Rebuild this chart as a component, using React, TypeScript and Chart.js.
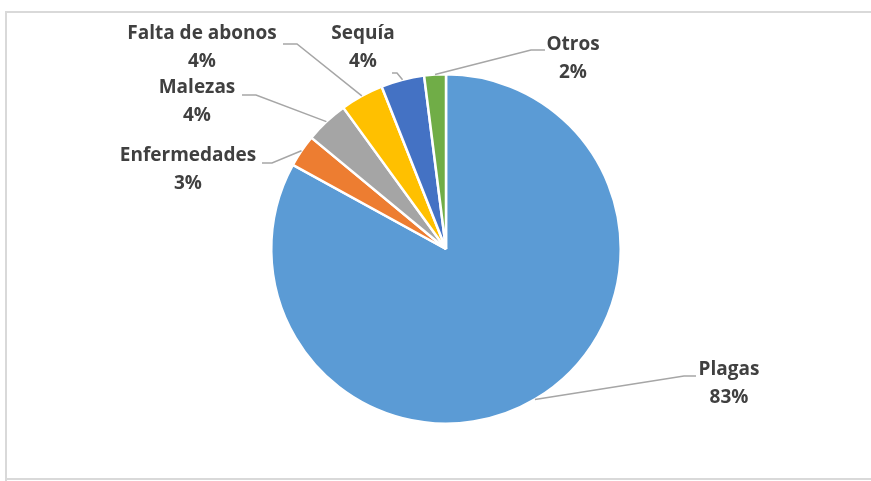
import { useEffect, useRef } from "react";
import { Chart, registerables } from "chart.js";

Chart.register(...registerables);

const categories = ["Plagas", "Enfermedades", "Malezas", "Falta de abonos", "Sequía", "Otros"];
const shares = [83, 3, 4, 4, 4, 2];
const sliceColors = ["#5B9BD5", "#ED7D31", "#A5A5A5", "#FFC000", "#4472C4", "#70AD47"];

// Where each category name is centred, and where its leader line leaves the label.
const labelCenters: [number, number][] = [
  [729, 370],
  [188, 156],
  [197, 88],
  [202, 34],
  [363, 34],
  [573, 45],
];
const leaderStarts: [number, number][] = [
  [696, 376],
  [262, 163],
  [242, 95],
  [283, 44],
  [392, 73],
  [545, 50],
];
const elbowLength = [12, 10, 14, 14, 5, 14];

const FONT = "bold 19px 'Open Sans', Lato, sans-serif";
const LINE_GAP = 28;

const framePlugin = {
  id: "frame",
  beforeDraw(chart: Chart) {
    const ctx = chart.ctx;
    ctx.save();
    ctx.fillStyle = "#ffffff";
    ctx.fillRect(0, 0, chart.width, chart.height);
    ctx.strokeStyle = "#D9D9D9";
    ctx.lineWidth = 2;
    ctx.beginPath();
    ctx.moveTo(5, 12);
    ctx.lineTo(chart.width, 12);
    ctx.moveTo(6, 12);
    ctx.lineTo(6, chart.height);
    ctx.moveTo(6, 479);
    ctx.lineTo(chart.width, 479);
    ctx.stroke();
    ctx.restore();
  },
};

const labelPlugin = {
  id: "sliceLabels",
  afterDraw(chart: Chart) {
    const ctx = chart.ctx;
    const meta = chart.getDatasetMeta(0);
    const values = chart.data.datasets[0].data as number[];
    const total = values.reduce((a, b) => a + b, 0);
    ctx.save();
    meta.data.forEach((el: any, i: number) => {
      const { x, y, startAngle, endAngle, outerRadius } = el.getProps(
        ["x", "y", "startAngle", "endAngle", "outerRadius"],
        true
      );
      const mid = (startAngle + endAngle) / 2;
      const ax = x + Math.cos(mid) * outerRadius;
      const ay = y + Math.sin(mid) * outerRadius;
      const [sx, sy] = leaderStarts[i];
      const dir = ax > sx ? 1 : -1;
      ctx.strokeStyle = "#A6A6A6";
      ctx.lineWidth = 1.5;
      ctx.beginPath();
      ctx.moveTo(sx, sy);
      ctx.lineTo(sx + dir * elbowLength[i], sy);
      ctx.lineTo(ax, ay);
      ctx.stroke();

      const [cx, cy] = labelCenters[i];
      ctx.fillStyle = "#404040";
      ctx.font = FONT;
      ctx.textAlign = "center";
      ctx.textBaseline = "middle";
      ctx.fillText(String(chart.data.labels![i]), cx, cy);
      ctx.fillText(Math.round((values[i] / total) * 100) + "%", cx, cy + LINE_GAP);
    });
    ctx.restore();
  },
};

export default function App() {
  const canvasRef = useRef<HTMLCanvasElement | null>(null);

  useEffect(() => {
    if (!canvasRef.current) return;
    const chart = new Chart(canvasRef.current, {
      type: "pie",
      data: {
        labels: categories,
        datasets: [
          {
            data: shares,
            backgroundColor: sliceColors,
            borderColor: "#ffffff",
            borderWidth: 2.5,
          },
        ],
      },
      options: {
        responsive: false,
        animation: false,
        events: [],
        layout: { padding: { left: 270, right: 249, top: 72, bottom: 55 } },
        plugins: {
          legend: { display: false },
          tooltip: { enabled: false },
        },
      },
      plugins: [framePlugin, labelPlugin],
    });
    return () => chart.destroy();
  }, []);

  return (
    <div style={{ position: "absolute", left: 0, top: 0, width: 871, height: 481, background: "#fff" }}>
      <canvas ref={canvasRef} width={871} height={481} />
    </div>
  );
}
